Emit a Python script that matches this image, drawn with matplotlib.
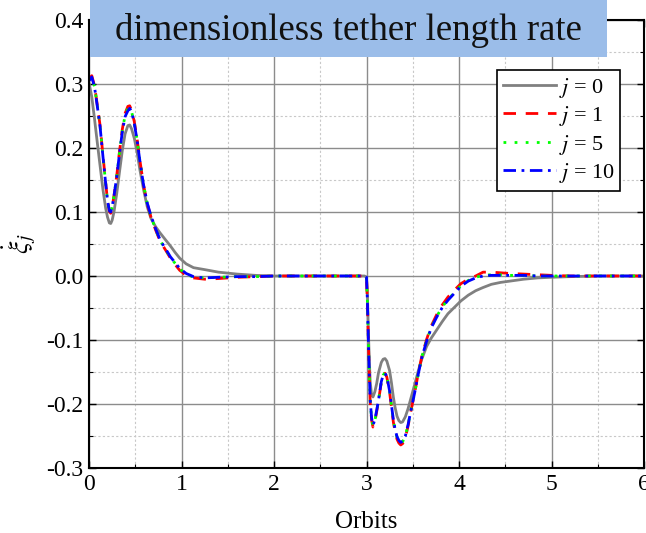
import matplotlib.pyplot as plt
from matplotlib.patches import Rectangle
from matplotlib.ticker import MultipleLocator, FormatStrFormatter

plt.rcParams['font.family'] = ['Liberation Serif', 'DejaVu Serif']
plt.rcParams['mathtext.fontset'] = 'stix'
plt.rcParams['axes.unicode_minus'] = False

# time in orbits: first deployment phase, then second phase after t = 3
t_first = [0.00, 0.03, 0.06, 0.09, 0.12, 0.15, 0.18, 0.20, 0.22, 0.235,
           0.25, 0.27, 0.30, 0.33, 0.36, 0.39, 0.42, 0.44, 0.46, 0.49,
           0.52, 0.55, 0.59, 0.63, 0.67, 0.72, 0.77, 0.83, 0.88, 0.93,
           0.98, 1.05, 1.13, 1.25, 1.40, 1.60, 1.80, 2.00, 2.50]
t_second = [2.98, 3.00, 3.01, 3.02, 3.03, 3.04, 3.055, 3.07, 3.09, 3.11,
            3.13, 3.16, 3.18, 3.20, 3.22, 3.25, 3.27, 3.29, 3.31, 3.33,
            3.35, 3.37, 3.39, 3.42, 3.45, 3.48, 3.52, 3.56, 3.60, 3.65,
            3.70, 3.76, 3.82, 3.88, 3.95, 4.02, 4.10, 4.18, 4.26, 4.35,
            4.45, 4.55, 4.70, 4.85, 5.00, 5.20, 5.50, 6.00]

# j = 0
xi0_first = [0.302, 0.280, 0.245, 0.208, 0.172, 0.136, 0.106, 0.092, 0.083, 0.082,
             0.087, 0.100, 0.129, 0.163, 0.196, 0.222, 0.235, 0.236, 0.230, 0.215,
             0.193, 0.166, 0.135, 0.108, 0.090, 0.077, 0.067, 0.056, 0.047, 0.037,
             0.028, 0.019, 0.013, 0.010, 0.006, 0.003, 0.001, 0.000, 0.000]
xi0_second = [0.000, -0.002, -0.030, -0.085, -0.130, -0.165, -0.186, -0.189, -0.181, -0.168,
              -0.151, -0.135, -0.130, -0.129, -0.133, -0.148, -0.167, -0.189, -0.206, -0.219,
              -0.226, -0.229, -0.228, -0.220, -0.207, -0.191, -0.170, -0.148, -0.129, -0.110,
              -0.097, -0.084, -0.071, -0.059, -0.049, -0.039, -0.030, -0.023, -0.018, -0.013,
              -0.010, -0.008, -0.005, -0.003, -0.002, -0.001, 0.000, 0.000]

# j = 1
xi1_first = [0.308, 0.313, 0.297, 0.267, 0.235, 0.190, 0.146, 0.118, 0.101, 0.098,
             0.107, 0.125, 0.157, 0.195, 0.229, 0.254, 0.265, 0.266, 0.259, 0.241,
             0.214, 0.181, 0.142, 0.113, 0.092, 0.072, 0.054, 0.040, 0.028, 0.018,
             0.009, 0.001, -0.003, -0.005, -0.004, -0.002, -0.001, 0.000, 0.000]
xi1_second = [0.000, -0.002, -0.042, -0.102, -0.153, -0.197, -0.225, -0.236, -0.228, -0.212,
              -0.195, -0.166, -0.155, -0.152, -0.158, -0.182, -0.205, -0.228, -0.244, -0.255,
              -0.261, -0.264, -0.262, -0.253, -0.234, -0.211, -0.183, -0.152, -0.124, -0.099,
              -0.078, -0.060, -0.045, -0.033, -0.022, -0.012, -0.005, 0.000, 0.006, 0.006,
              0.005, 0.004, 0.003, 0.002, 0.001, 0.000, 0.000, 0.000]

# j = 5
xi5_first = [0.306, 0.311, 0.296, 0.266, 0.234, 0.189, 0.145, 0.118, 0.102, 0.099,
             0.108, 0.125, 0.156, 0.193, 0.227, 0.251, 0.262, 0.263, 0.257, 0.239,
             0.213, 0.180, 0.142, 0.113, 0.093, 0.073, 0.055, 0.041, 0.029, 0.020,
             0.011, 0.003, -0.002, -0.003, -0.002, -0.001, -0.001, 0.000, 0.000]
xi5_second = [0.000, -0.002, -0.041, -0.101, -0.151, -0.195, -0.223, -0.234, -0.226, -0.211,
              -0.194, -0.165, -0.155, -0.151, -0.157, -0.180, -0.203, -0.225, -0.241, -0.252,
              -0.258, -0.261, -0.259, -0.250, -0.232, -0.210, -0.183, -0.153, -0.125, -0.101,
              -0.080, -0.063, -0.048, -0.037, -0.026, -0.015, -0.007, -0.002, 0.001, 0.002,
              0.002, 0.001, 0.001, 0.000, 0.000, 0.000, 0.000, 0.000]

# j = 10
xi10_first = [0.305, 0.311, 0.295, 0.265, 0.233, 0.188, 0.145, 0.118, 0.102, 0.100,
              0.108, 0.125, 0.155, 0.192, 0.225, 0.249, 0.258, 0.262, 0.257, 0.238,
              0.212, 0.180, 0.142, 0.114, 0.094, 0.074, 0.056, 0.042, 0.030, 0.021,
              0.012, 0.004, -0.001, -0.003, -0.002, -0.001, -0.001, 0.000, 0.000]
xi10_second = [0.000, -0.002, -0.040, -0.100, -0.150, -0.194, -0.222, -0.233, -0.225, -0.210,
               -0.194, -0.165, -0.155, -0.152, -0.157, -0.180, -0.202, -0.224, -0.240, -0.251,
               -0.257, -0.260, -0.258, -0.250, -0.232, -0.210, -0.183, -0.153, -0.126, -0.102,
               -0.081, -0.064, -0.049, -0.038, -0.027, -0.016, -0.008, -0.003, 0.000, 0.001,
               0.001, 0.001, 0.001, 0.000, 0.000, 0.000, 0.000, 0.000]

t = t_first + t_second

fig = plt.figure(figsize=(6.46, 5.33), dpi=100)
ax = fig.add_axes([89 / 646, 65 / 533, 555 / 646, 448 / 533])

ax.plot(t, xi0_first + xi0_second, color='#808080', lw=2.0, ls='-', label='$j$ = 0')
ax.plot(t, xi1_first + xi1_second, color='red', lw=2.0, ls=(0, (4.5, 3.5)), label='$j$ = 1')
ax.plot(t, xi5_first + xi5_second, color='#00ff00', lw=2.0, ls=(0, (1, 3)), label='$j$ = 5')
ax.plot(t, xi10_first + xi10_second, color='blue', lw=2.0, ls=(0, (4.5, 2, 1, 2)),
        label='$j$ = 10')

ax.set_xlim(0, 6)
ax.set_ylim(-0.3, 0.4)
ax.xaxis.set_major_locator(MultipleLocator(1))
ax.xaxis.set_minor_locator(MultipleLocator(0.5))
ax.yaxis.set_major_locator(MultipleLocator(0.1))
ax.yaxis.set_minor_locator(MultipleLocator(0.05))
ax.yaxis.set_major_formatter(FormatStrFormatter('%.1f'))
ax.xaxis.set_major_formatter(FormatStrFormatter('%d'))

ax.grid(which='major', color='#8c8c8c', lw=1.0, ls='-')
ax.grid(which='minor', color='#c8c8c8', lw=0.8, ls=(0, (2, 2)))
ax.set_axisbelow(True)

ax.tick_params(which='both', direction='in', top=True, right=True, labelsize=17, pad=4)
ax.tick_params(which='major', length=5, width=1)
ax.tick_params(which='minor', length=3, width=0.8)
for s in ax.spines.values():
    s.set_linewidth(1.5)

ax.set_xlabel('Orbits', fontsize=18, labelpad=12)
ax.set_ylabel(r'$\dot{\xi}_j$', fontsize=20, labelpad=6)

leg = ax.legend(loc='upper right', bbox_to_anchor=(0.957, 0.888), fontsize=16,
                handlelength=2.4, handletextpad=0.1, labelspacing=0.2,
                borderpad=0.25, borderaxespad=0, fancybox=False, framealpha=1)
leg.get_frame().set_edgecolor('black')
leg.get_frame().set_linewidth(1.2)

# title banner
fig.patches.append(Rectangle((90 / 646, 1 - 57 / 533), 517 / 646, 57 / 533,
                             transform=fig.transFigure, facecolor='#9bbde9',
                             edgecolor='none', zorder=5))
fig.text(348.5 / 646, 1 - 31 / 533, 'dimensionless tether length rate',
         fontsize=26.5, ha='center', va='center', color='#111111', zorder=6)

fig.savefig('out.png', dpi=100)
